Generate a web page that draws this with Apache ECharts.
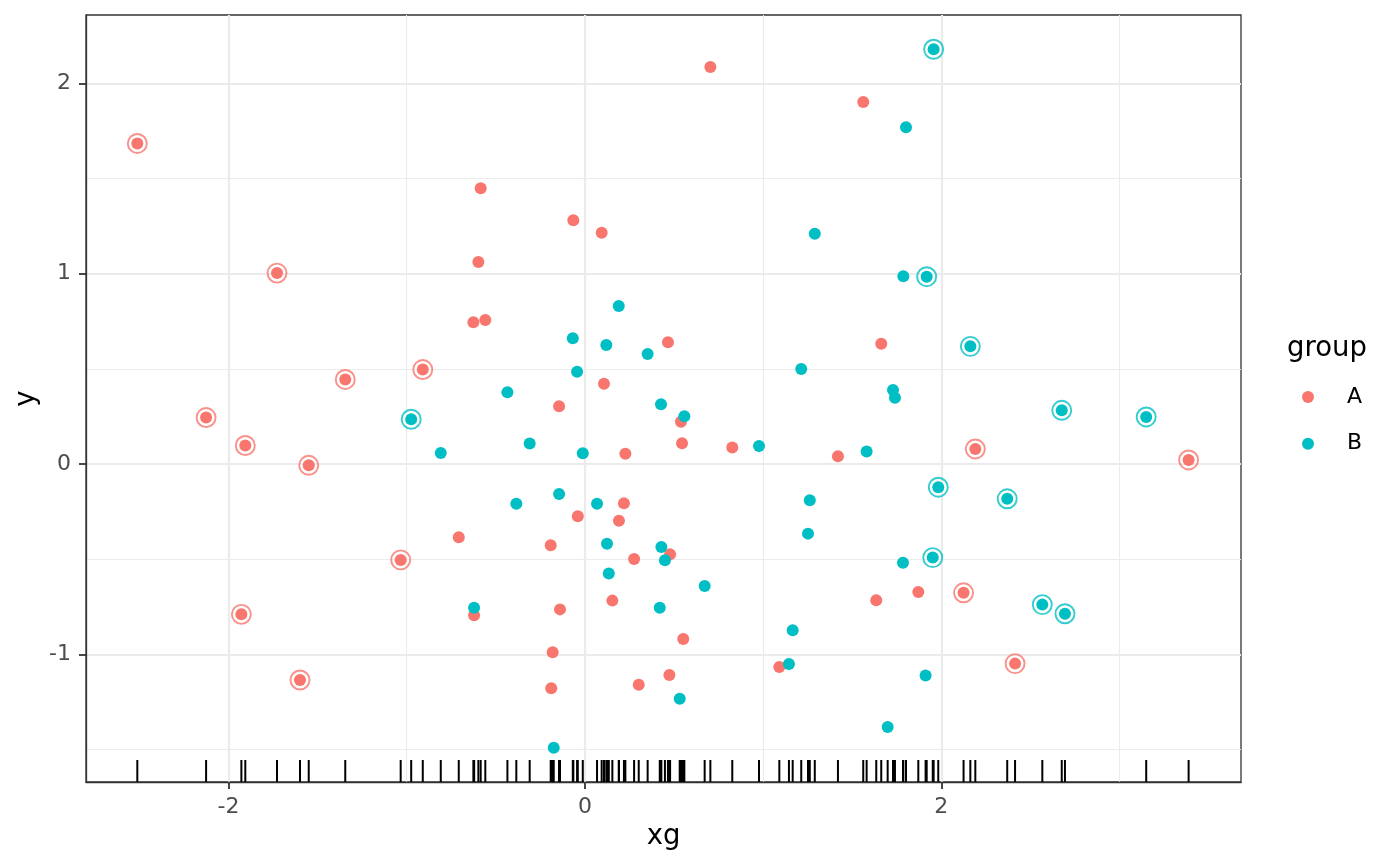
<!DOCTYPE html>
<html>
<head>
<meta charset="utf-8">
<script src="https://cdn.jsdelivr.net/npm/echarts@6/dist/echarts.min.js"></script>
<style>
html,body{margin:0;padding:0;background:#ffffff;}
#chart{width:1400px;height:866px;}
</style>
</head>
<body>
<div id="chart"></div>
<script>
// ---- data ----
const groupNames = ['A', 'B'];
const groupColors = ['#F8766D', '#00BFC4'];

const aX = [-2.512,-2.126,-1.906,-1.928,-1.728,-1.599,-1.550,-1.345,-1.034,-0.910,
            -0.708,-0.626,-0.622,-0.598,-0.585,-0.559,-0.192,-0.189,-0.181,-0.145,
            -0.140,-0.065,-0.040,0.094,0.107,0.154,0.191,0.219,0.227,0.276,
            0.302,0.466,0.478,0.474,0.539,0.545,0.552,0.704,0.827,1.091,
            1.562,1.420,1.635,1.663,1.871,2.125,2.191,2.414,3.388];
const aY = [1.684,0.244,0.097,-0.790,1.003,-1.135,-0.007,0.444,-0.504,0.496,
            -0.385,0.745,-0.795,1.061,1.449,0.757,-0.427,-1.179,-0.989,0.303,
            -0.764,1.281,-0.275,1.215,0.422,-0.718,-0.298,-0.207,0.054,-0.499,
            -1.160,0.640,-0.475,-1.109,0.222,0.109,-0.920,2.086,0.086,-1.067,
            1.902,0.040,-0.716,0.632,-0.673,-0.677,0.079,-1.049,0.021];
const aRing = [1,1,1,1,1,1,1,1,1,1,
               0,0,0,0,0,0,0,0,0,0,
               0,0,0,0,0,0,0,0,0,0,
               0,0,0,0,0,0,0,0,0,0,
               0,0,0,0,0,1,1,1,1];

const bX = [-0.975,-0.809,-0.622,-0.435,-0.385,-0.310,-0.175,-0.145,-0.068,-0.044,
            -0.012,0.068,0.120,0.124,0.134,0.190,0.352,0.427,0.420,0.429,
            0.449,0.532,0.558,0.672,0.977,1.145,1.166,1.214,1.252,1.262,
            1.290,1.581,1.699,1.729,1.740,1.787,1.785,1.802,1.912,1.918,
            1.957,1.952,1.983,2.163,2.370,2.567,2.676,2.694,3.150];
const bY = [0.235,0.058,-0.755,0.377,-0.209,0.107,-1.491,-0.158,0.661,0.485,
            0.056,-0.209,0.625,-0.419,-0.576,0.830,0.578,0.314,-0.755,-0.436,
            -0.506,-1.233,0.251,-0.641,0.095,-1.051,-0.874,0.499,-0.366,-0.191,
            1.210,0.065,-1.382,0.389,0.348,0.986,-0.519,1.769,-1.112,0.984,
            2.179,-0.492,-0.122,0.618,-0.183,-0.739,0.282,-0.787,0.247];
const bRing = [1,0,0,0,0,0,0,0,0,0,
               0,0,0,0,0,0,0,0,0,0,
               0,0,0,0,0,0,0,0,0,0,
               0,0,0,0,0,0,0,0,0,1,
               1,1,1,1,1,1,1,1,1];

const xMajorTicks = [-2, 0, 2];
const xMinorTicks = [-1, 1, 3];
const yMajorTicks = [-1, 0, 1, 2];
const yMinorTicks = [-1.5, -0.5, 0.5, 1.5];
const xRange = [-2.800, 3.682];
const yRange = [-1.671, 2.359];

// ---- build ----
const FONT = 'DejaVu Sans';
const pts = (xs, ys) => xs.map((x, i) => [x, ys[i]]);
const ringPts = (xs, ys, flags) => xs.map((x, i) => [x, ys[i]]).filter((p, i) => flags[i] === 1);
const rugX = aX.concat(bX);

function axisCommon(min, max) {
  return { type: 'value', min: min, max: max, gridIndex: 0 };
}

const xMajor = Object.assign(axisCommon(xRange[0], xRange[1]), {
  position: 'bottom',
  name: 'xg', nameLocation: 'middle', nameGap: 41, nameMoveOverlap: false,
  nameTextStyle: { fontFamily: FONT, fontSize: 27.5, color: '#000000' },
  axisLine: { show: true, onZero: false, lineStyle: { color: '#333333', width: 1.3 } },
  axisTick: { show: true, customValues: xMajorTicks, length: 7, lineStyle: { color: '#333333', width: 1.8 } },
  axisLabel: { show: true, customValues: xMajorTicks, margin: 14, fontFamily: FONT, fontSize: 22, color: '#4D4D4D' },
  splitLine: { show: true, lineStyle: { color: '#EBEBEB', width: 2.2 } }
});
const xMinor = Object.assign(axisCommon(xRange[0], xRange[1]), {
  position: 'bottom',
  axisLine: { show: false, onZero: false },
  axisTick: { show: false, customValues: xMinorTicks },
  axisLabel: { show: false, customValues: xMinorTicks },
  splitLine: { show: true, lineStyle: { color: '#EBEBEB', width: 1.1 } }
});
const yMajor = Object.assign(axisCommon(yRange[0], yRange[1]), {
  position: 'left',
  name: 'y', nameLocation: 'middle', nameGap: 45, nameMoveOverlap: false,
  nameTextStyle: { fontFamily: FONT, fontSize: 27.5, color: '#000000' },
  axisLine: { show: true, onZero: false, lineStyle: { color: '#333333', width: 1.3 } },
  axisTick: { show: true, customValues: yMajorTicks, length: 7, lineStyle: { color: '#333333', width: 1.8 } },
  axisLabel: { show: true, customValues: yMajorTicks, margin: 15, fontFamily: FONT, fontSize: 22, color: '#4D4D4D', padding: [3, 0, 0, 0] },
  splitLine: { show: true, lineStyle: { color: '#EBEBEB', width: 2.2 } }
});
const yMinor = Object.assign(axisCommon(yRange[0], yRange[1]), {
  position: 'left',
  axisLine: { show: false, onZero: false },
  axisTick: { show: false, customValues: yMinorTicks },
  axisLabel: { show: false, customValues: yMinorTicks },
  splitLine: { show: true, lineStyle: { color: '#EBEBEB', width: 1.1 } }
});

const option = {
  animation: false,
  backgroundColor: '#ffffff',
  textStyle: { fontFamily: FONT },
  title: {
    text: 'group', left: 1287, top: 335, padding: 0,
    textStyle: { fontFamily: FONT, fontSize: 27.5, fontWeight: 'normal', color: '#000000' }
  },
  legend: {
    data: groupNames, orient: 'vertical', left: 1302, top: 386, padding: 0,
    itemWidth: 12, itemHeight: 12, itemGap: 24.7, icon: 'circle',
    selectedMode: false,
    textStyle: { fontFamily: FONT, fontSize: 22, color: '#000000', padding: [2, 0, 0, 28] }
  },
  grid: {
    left: 86, right: 159, top: 15, bottom: 84, containLabel: false,
    show: true, borderColor: '#333333', borderWidth: 1.3, backgroundColor: 'transparent'
  },
  xAxis: [xMajor, xMinor],
  yAxis: [yMajor, yMinor],
  series: [
    {
      name: groupNames[0], type: 'scatter', xAxisIndex: 0, yAxisIndex: 0, silent: true, z: 3,
      symbol: 'circle', symbolSize: 12, itemStyle: { color: groupColors[0], opacity: 1 },
      data: pts(aX, aY)
    },
    {
      name: groupNames[1], type: 'scatter', xAxisIndex: 0, yAxisIndex: 0, silent: true, z: 3,
      symbol: 'circle', symbolSize: 12, itemStyle: { color: groupColors[1], opacity: 1 },
      data: pts(bX, bY)
    },
    {
      name: 'A ring', type: 'scatter', xAxisIndex: 0, yAxisIndex: 0, silent: true, z: 4,
      symbol: 'circle', symbolSize: 19,
      itemStyle: { color: 'rgba(0,0,0,0)', borderColor: groupColors[0], borderWidth: 1.9 },
      data: ringPts(aX, aY, aRing)
    },
    {
      name: 'B ring', type: 'scatter', xAxisIndex: 0, yAxisIndex: 0, silent: true, z: 4,
      symbol: 'circle', symbolSize: 19,
      itemStyle: { color: 'rgba(0,0,0,0)', borderColor: groupColors[1], borderWidth: 1.9 },
      data: ringPts(bX, bY, bRing)
    },
    {
      name: 'rug', type: 'custom', xAxisIndex: 0, yAxisIndex: 0, silent: true, z: 5,
      data: rugX.map(v => [v, yRange[0]]),
      renderItem: function (params, api) {
        const p = api.coord([api.value(0), api.value(1)]);
        return {
          type: 'line',
          shape: { x1: p[0], y1: p[1], x2: p[0], y2: p[1] - 22 },
          style: { stroke: '#000000', lineWidth: 2 }
        };
      }
    }
  ]
};

const chart = echarts.init(document.getElementById('chart'), null, { renderer: 'canvas' });
chart.setOption(option);
</script>
</body>
</html>
